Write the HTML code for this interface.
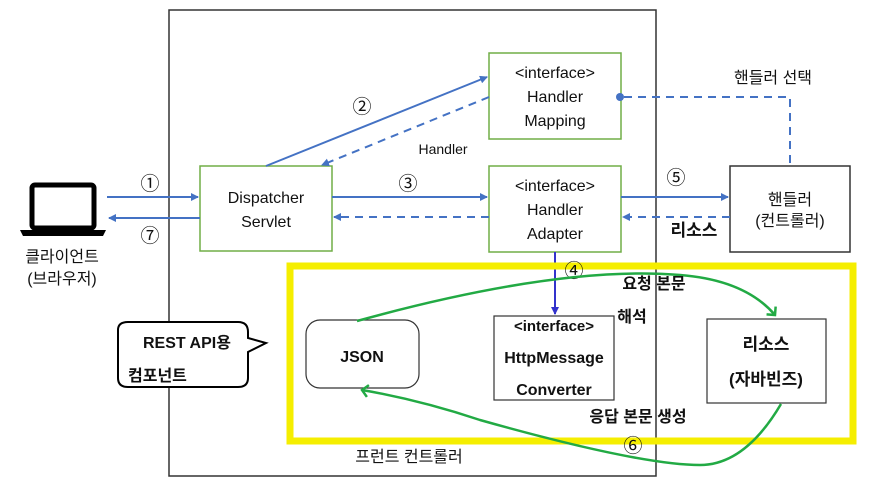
<!DOCTYPE html>
<html><head><meta charset="utf-8"><style>
body{margin:0;background:#fff}
svg{display:block}
text{font-family:"Liberation Sans","Noto Sans CJK KR",sans-serif;fill:#111}
</style></head><body>
<svg width="872" height="482" viewBox="0 0 872 482" xmlns="http://www.w3.org/2000/svg">
<defs>
<marker id="ab" markerWidth="8" markerHeight="8" refX="7" refY="4" orient="auto" markerUnits="userSpaceOnUse"><path d="M0,0 L8,4 L0,8 z" fill="#4472c4"/></marker>
<marker id="ad" markerWidth="8" markerHeight="8" refX="7" refY="4" orient="auto" markerUnits="userSpaceOnUse"><path d="M0,0 L8,4 L0,8 z" fill="#3333cc"/></marker>
<marker id="ag" markerWidth="14" markerHeight="14" refX="7" refY="7" orient="auto" markerUnits="userSpaceOnUse"><path d="M1,1 L7,7 L1,13" fill="none" stroke="#22aa44" stroke-width="2.5"/></marker>
</defs>
<rect x="169" y="10" width="487" height="466" fill="#fff" stroke="#333" stroke-width="1.5"/>
<!-- laptop -->
<rect x="32" y="185" width="62" height="43" rx="3" fill="none" stroke="#000" stroke-width="5"/>
<path d="M20,230 H106 L103,236 H23 z" fill="#000"/>
<text x="62" y="262" font-size="16" text-anchor="middle">클라이언트</text>
<text x="62" y="284" font-size="16" text-anchor="middle">(브라우저)</text>
<!-- boxes -->
<rect x="200" y="166" width="132" height="85" fill="#fff" stroke="#70ad47" stroke-width="1.5"/>
<text x="266" y="203" font-size="16" text-anchor="middle">Dispatcher</text>
<text x="266" y="227" font-size="16" text-anchor="middle">Servlet</text>
<rect x="489" y="53" width="132" height="86" fill="#fff" stroke="#70ad47" stroke-width="1.5"/>
<text x="555" y="78" font-size="16" text-anchor="middle">&lt;interface&gt;</text>
<text x="555" y="102" font-size="16" text-anchor="middle">Handler</text>
<text x="555" y="126" font-size="16" text-anchor="middle">Mapping</text>
<rect x="489" y="166" width="132" height="86" fill="#fff" stroke="#70ad47" stroke-width="1.5"/>
<text x="555" y="191" font-size="16" text-anchor="middle">&lt;interface&gt;</text>
<text x="555" y="215" font-size="16" text-anchor="middle">Handler</text>
<text x="555" y="239" font-size="16" text-anchor="middle">Adapter</text>
<rect x="730" y="166" width="120" height="86" fill="#fff" stroke="#333" stroke-width="1.5"/>
<text x="790" y="205" font-size="16" text-anchor="middle">핸들러</text>
<text x="790" y="226" font-size="16" text-anchor="middle">(컨트롤러)</text>
<!-- arrows -->
<line x1="107" y1="197" x2="198" y2="197" stroke="#4472c4" stroke-width="2" marker-end="url(#ab)"/>
<line x1="200" y1="218" x2="109" y2="218" stroke="#4472c4" stroke-width="2" marker-end="url(#ab)"/>
<text x="150" y="190" font-size="19" text-anchor="middle">①</text>
<text x="150" y="242" font-size="19" text-anchor="middle">⑦</text>
<line x1="266" y1="166" x2="487" y2="77" stroke="#4472c4" stroke-width="2" marker-end="url(#ab)"/>
<line x1="489" y1="97" x2="322" y2="165" stroke="#4472c4" stroke-width="2" stroke-dasharray="8,6" marker-end="url(#ab)"/>
<text x="362" y="113" font-size="19" text-anchor="middle">②</text>
<text x="443" y="154" font-size="14" text-anchor="middle">Handler</text>
<line x1="332" y1="197" x2="487" y2="197" stroke="#4472c4" stroke-width="2" marker-end="url(#ab)"/>
<line x1="489" y1="217" x2="334" y2="217" stroke="#4472c4" stroke-width="2" stroke-dasharray="8,6" marker-end="url(#ab)"/>
<text x="408" y="190" font-size="19" text-anchor="middle">③</text>
<line x1="621" y1="197" x2="728" y2="197" stroke="#4472c4" stroke-width="2" marker-end="url(#ab)"/>
<line x1="730" y1="217" x2="623" y2="217" stroke="#4472c4" stroke-width="2" stroke-dasharray="8,6" marker-end="url(#ab)"/>
<text x="676" y="184" font-size="19" text-anchor="middle">⑤</text>
<text x="694" y="236" font-size="17" font-weight="bold" text-anchor="middle">리소스</text>
<circle cx="620" cy="97" r="4" fill="#4472c4"/>
<path d="M624,97 H790 V166" fill="none" stroke="#4472c4" stroke-width="2" stroke-dasharray="8,6"/>
<text x="773" y="83" font-size="16" text-anchor="middle">핸들러 선택</text>
<line x1="555" y1="252" x2="555" y2="314" stroke="#3333cc" stroke-width="2" marker-end="url(#ad)"/>
<!-- yellow -->
<rect x="290" y="266" width="563" height="175" fill="none" stroke="#f5ee00" stroke-width="7"/>
<text x="574" y="277" font-size="19" text-anchor="middle">④</text>
<text x="633" y="452" font-size="19" text-anchor="middle">⑥</text>
<!-- inner -->
<rect x="306" y="320" width="113" height="68" rx="14" fill="#fff" stroke="#333" stroke-width="1.2"/>
<text x="362" y="362" font-size="16" font-weight="bold" text-anchor="middle">JSON</text>
<rect x="494" y="316" width="120" height="84" fill="#fff" stroke="#333" stroke-width="1.2"/>
<text x="554" y="331" font-size="15" font-weight="bold" text-anchor="middle">&lt;interface&gt;</text>
<text x="554" y="363" font-size="16" font-weight="bold" text-anchor="middle">HttpMessage</text>
<text x="554" y="395" font-size="16" font-weight="bold" text-anchor="middle">Converter</text>
<rect x="707" y="319" width="119" height="84" fill="#fff" stroke="#333" stroke-width="1.2"/>
<text x="766" y="350" font-size="17" font-weight="bold" text-anchor="middle">리소스</text>
<text x="766" y="385" font-size="17" font-weight="bold" text-anchor="middle">(자바빈즈)</text>
<path d="M118,330 Q118,322 128,322 H238 Q248,322 248,332 V338 L266,343 L248,352 V378 Q248,387 238,387 H128 Q118,387 118,378 z" fill="#fff" stroke="#000" stroke-width="2"/>
<text x="143" y="348" font-size="16" font-weight="bold">REST API용</text>
<text x="128" y="381" font-size="16" font-weight="bold">컴포넌트</text>
<!-- green -->
<path d="M357,321 Q560,265 680,275 Q745,280 775,315" fill="none" stroke="#22aa44" stroke-width="2.5" marker-end="url(#ag)"/>
<path d="M781,404 Q745,465 700,465 Q640,465 480,420 Q420,400 362,390" fill="none" stroke="#22aa44" stroke-width="2.5" marker-end="url(#ag)"/>
<text x="654" y="289" font-size="16" font-weight="bold" text-anchor="middle">요청 본문</text>
<text x="632" y="322" font-size="16" font-weight="bold" text-anchor="middle">해석</text>
<text x="638" y="422" font-size="16" font-weight="bold" text-anchor="middle">응답 본문 생성</text>
<text x="409" y="462" font-size="16" text-anchor="middle">프런트 컨트롤러</text>
</svg>
</body></html>
